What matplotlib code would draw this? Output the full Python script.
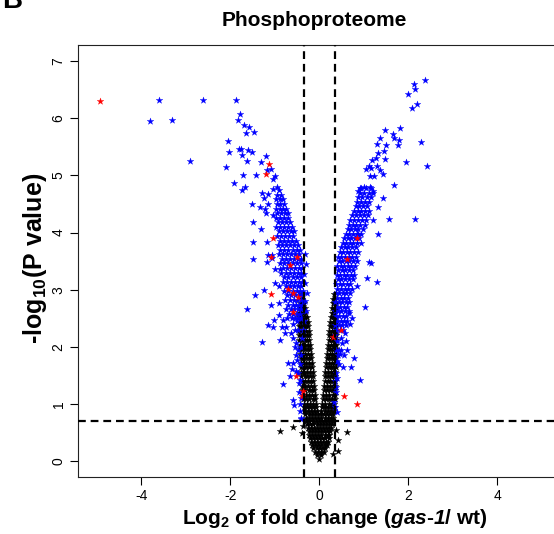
import matplotlib
matplotlib.use("Agg")
import matplotlib.pyplot as plt

plt.rcParams["font.family"] = ["Liberation Sans", "DejaVu Sans"]
plt.rcParams["mathtext.fontset"] = "custom"
plt.rcParams["mathtext.rm"] = "Liberation Sans"
plt.rcParams["mathtext.it"] = "Liberation Sans:italic"
plt.rcParams["mathtext.bf"] = "Liberation Sans:bold"
plt.rcParams["mathtext.bfit"] = "Liberation Sans:bold:italic"
plt.rcParams["mathtext.default"] = "bf"
plt.rcParams["axes.unicode_minus"] = False

# thresholds (dashed lines)
fc_cut = 0.35
p_cut = 0.7

# non-significant sites (black), read off the dense V
black_pts = [
    (0.00, 0.04),
    (-0.04, 0.10), (0.03, 0.10),
    (-0.09, 0.16), (-0.02, 0.16), (0.05, 0.16), (0.10, 0.16),
    (-0.13, 0.22), (-0.06, 0.22), (0.01, 0.22), (0.08, 0.22), (0.14, 0.22),
    (-0.16, 0.28), (-0.09, 0.28), (-0.02, 0.28), (0.05, 0.28), (0.12, 0.28), (0.17, 0.28),
    (-0.19, 0.34), (-0.12, 0.34), (-0.05, 0.34), (0.02, 0.34), (0.09, 0.34), (0.16, 0.34), (0.20, 0.34),
    (-0.21, 0.40), (-0.14, 0.40), (-0.07, 0.40), (0.00, 0.40), (0.07, 0.40), (0.14, 0.40), (0.21, 0.40),
    (-0.23, 0.46), (-0.16, 0.46), (-0.09, 0.46), (-0.02, 0.46), (0.05, 0.46), (0.12, 0.46), (0.19, 0.46), (0.23, 0.46),
    (-0.24, 0.52), (-0.17, 0.52), (-0.10, 0.52), (-0.03, 0.52), (0.04, 0.52), (0.11, 0.52), (0.18, 0.52), (0.25, 0.52),
    (-0.26, 0.58), (-0.19, 0.58), (-0.12, 0.58), (-0.05, 0.58), (0.02, 0.58), (0.09, 0.58), (0.16, 0.58), (0.23, 0.58), (0.27, 0.58),
    (-0.27, 0.64), (-0.20, 0.64), (-0.13, 0.64), (-0.06, 0.64), (0.01, 0.64), (0.08, 0.64), (0.15, 0.64), (0.22, 0.64), (0.28, 0.64),
    (-0.29, 0.70), (-0.22, 0.70), (-0.15, 0.70), (-0.08, 0.70), (-0.01, 0.70), (0.06, 0.70), (0.13, 0.70), (0.20, 0.70), (0.26, 0.70), (0.30, 0.70),
    (-0.30, 0.76), (-0.23, 0.76), (-0.16, 0.76), (-0.09, 0.76), (-0.02, 0.76), (0.05, 0.76), (0.12, 0.76), (0.19, 0.76), (0.26, 0.76), (0.31, 0.76),
    (-0.31, 0.82), (-0.24, 0.82), (-0.17, 0.82), (-0.10, 0.82), (-0.03, 0.82), (0.04, 0.82), (0.11, 0.82), (0.18, 0.82), (0.25, 0.82), (0.31, 0.82),
    (-0.33, 0.88), (-0.26, 0.88), (-0.19, 0.88), (-0.12, 0.88), (-0.06, 0.88), (0.05, 0.88), (0.12, 0.88), (0.19, 0.88), (0.26, 0.88), (0.32, 0.88),
    (-0.34, 0.94), (-0.27, 0.94), (-0.20, 0.94), (-0.13, 0.94), (-0.07, 0.94), (0.06, 0.94), (0.13, 0.94), (0.20, 0.94), (0.27, 0.94), (0.33, 0.94),
    (-0.35, 1.00), (-0.28, 1.00), (-0.21, 1.00), (-0.14, 1.00), (-0.08, 1.00), (0.07, 1.00), (0.14, 1.00), (0.21, 1.00), (0.28, 1.00), (0.34, 1.00),
    (-0.36, 1.08), (-0.29, 1.08), (-0.22, 1.08), (-0.15, 1.08), (-0.09, 1.08), (0.08, 1.08), (0.15, 1.08), (0.22, 1.08), (0.29, 1.08), (0.35, 1.08),
    (-0.37, 1.16), (-0.30, 1.16), (-0.23, 1.16), (-0.16, 1.16), (-0.10, 1.16), (0.09, 1.16), (0.16, 1.16), (0.23, 1.16), (0.30, 1.16), (0.35, 1.16),
    (-0.38, 1.24), (-0.31, 1.24), (-0.24, 1.24), (-0.17, 1.24), (-0.11, 1.24), (0.10, 1.24), (0.17, 1.24), (0.24, 1.24), (0.30, 1.24), (0.36, 1.24),
    (-0.38, 1.32), (-0.31, 1.32), (-0.25, 1.32), (-0.18, 1.32), (-0.12, 1.32), (0.11, 1.32), (0.18, 1.32), (0.25, 1.32), (0.31, 1.32), (0.36, 1.32),
    (-0.39, 1.40), (-0.32, 1.40), (-0.26, 1.40), (-0.19, 1.40), (-0.13, 1.40), (0.12, 1.40), (0.19, 1.40), (0.25, 1.40), (0.31, 1.40), (0.36, 1.40),
    (-0.40, 1.48), (-0.33, 1.48), (-0.27, 1.48), (-0.20, 1.48), (-0.14, 1.48), (0.13, 1.48), (0.19, 1.48), (0.26, 1.48), (0.32, 1.48), (0.36, 1.48),
    (-0.40, 1.56), (-0.34, 1.56), (-0.28, 1.56), (-0.21, 1.56), (-0.15, 1.56), (0.14, 1.56), (0.20, 1.56), (0.26, 1.56), (0.32, 1.56), (0.36, 1.56),
    (-0.41, 1.64), (-0.35, 1.64), (-0.29, 1.64), (-0.22, 1.64), (-0.16, 1.64), (0.15, 1.64), (0.21, 1.64), (0.27, 1.64), (0.32, 1.64), (0.37, 1.64),
    (-0.42, 1.72), (-0.36, 1.72), (-0.30, 1.72), (-0.24, 1.72), (-0.17, 1.72), (0.16, 1.72), (0.22, 1.72), (0.28, 1.72), (0.33, 1.72), (0.37, 1.72),
    (-0.42, 1.80), (-0.36, 1.80), (-0.30, 1.80), (-0.24, 1.80), (-0.18, 1.80), (0.17, 1.80), (0.23, 1.80), (0.28, 1.80), (0.33, 1.80), (0.37, 1.80),
    (-0.43, 1.88), (-0.37, 1.88), (-0.31, 1.88), (-0.25, 1.88), (-0.19, 1.88), (0.18, 1.88), (0.24, 1.88), (0.29, 1.88), (0.34, 1.88), (0.37, 1.88),
    (-0.44, 1.96), (-0.38, 1.96), (-0.32, 1.96), (-0.26, 1.96), (-0.20, 1.96), (0.19, 1.96), (0.25, 1.96), (0.30, 1.96), (0.34, 1.96), (0.37, 1.96),
    (-0.44, 2.04), (-0.38, 2.04), (-0.32, 2.04), (-0.26, 2.04), (-0.21, 2.04), (0.20, 2.04), (0.26, 2.04), (0.31, 2.04), (0.35, 2.04), (0.38, 2.04),
    (-0.45, 2.12), (-0.39, 2.12), (-0.33, 2.12), (-0.27, 2.12), (-0.22, 2.12), (0.21, 2.12), (0.27, 2.12), (0.31, 2.12), (0.35, 2.12), (0.38, 2.12),
    (-0.45, 2.20), (-0.39, 2.20), (-0.34, 2.20), (-0.28, 2.20), (-0.23, 2.20), (0.22, 2.20), (0.27, 2.20), (0.32, 2.20), (0.36, 2.20), (0.38, 2.20),
    (-0.46, 2.28), (-0.40, 2.28), (-0.34, 2.28), (-0.29, 2.28), (-0.24, 2.28), (0.23, 2.28), (0.28, 2.28), (0.33, 2.28), (0.36, 2.28), (0.38, 2.28),
    (-0.46, 2.36), (-0.40, 2.36), (-0.35, 2.36), (-0.30, 2.36), (-0.25, 2.36), (0.24, 2.36), (0.29, 2.36), (0.33, 2.36), (0.37, 2.36),
    (-0.46, 2.44), (-0.41, 2.44), (-0.35, 2.44), (-0.30, 2.44), (-0.26, 2.44), (0.25, 2.44), (0.30, 2.44), (0.34, 2.44), (0.37, 2.44),
    (-0.45, 2.52), (-0.40, 2.52), (-0.35, 2.52), (-0.31, 2.52), (-0.27, 2.52), (0.26, 2.52), (0.31, 2.52), (0.35, 2.52), (0.38, 2.52),
    (-0.45, 2.60), (-0.40, 2.60), (-0.36, 2.60), (-0.31, 2.60), (0.28, 2.60), (0.32, 2.60), (0.36, 2.60),
    (-0.44, 2.68), (-0.40, 2.68), (-0.36, 2.68), (-0.32, 2.68), (0.29, 2.68), (0.33, 2.68), (0.37, 2.68),
    (-0.43, 2.76), (-0.39, 2.76), (-0.35, 2.76), (0.30, 2.76), (0.34, 2.76), (0.37, 2.76),
    (-0.42, 2.84), (-0.38, 2.84), (0.32, 2.84), (0.35, 2.84),
    (-0.40, 2.92), (0.33, 2.92),
    # scattered low points
    (-0.89, 0.53), (-0.58, 0.59), (-0.39, 0.49), (-0.36, 0.62), (0.62, 0.50),
    (0.42, 0.37), (0.43, 0.18), (0.38, 0.55), (0.30, 0.12),
]

# significant sites (blue)
blue_pts = [
    # left, far
    (-3.60, 6.32), (-3.80, 5.95), (-3.31, 5.97), (-2.62, 6.32), (-1.87, 6.33), (-2.90, 5.25),
    (-1.79, 6.07), (-1.83, 5.97), (-1.68, 5.88), (-1.58, 5.85), (-1.64, 5.75), (-1.46, 5.77),
    (-2.04, 5.60), (-2.02, 5.42), (-1.81, 5.46), (-1.76, 5.47), (-1.74, 5.36), (-1.60, 5.45),
    (-1.51, 5.42), (-1.62, 5.26), (-2.09, 5.15), (-1.30, 5.24), (-1.19, 5.34), (-1.18, 5.10),
    (-1.08, 5.11), (-1.71, 5.00), (-1.42, 5.01), (-1.00, 4.99), (-1.04, 4.93), (-1.91, 4.86),
    (-1.66, 4.80), (-1.73, 4.75), (-0.94, 4.80), (-1.04, 4.76), (-1.29, 4.69), (-1.14, 4.68),
    (-1.24, 4.60), (-1.50, 4.50), (-1.33, 4.45), (-1.21, 4.41), (-1.14, 4.50), (-1.19, 4.34),
    (-1.04, 4.31), (-1.48, 4.18), (-1.30, 4.06), (-1.48, 3.83), (-1.17, 3.84), (-1.49, 3.54),
    (-1.14, 3.60), (-1.06, 3.55), (-1.18, 3.49), (-1.07, 3.60), (-0.99, 3.36), (-0.89, 3.37),
    (-0.99, 3.11), (-0.91, 3.06), (-1.24, 2.99), (-1.44, 2.90), (-1.08, 2.73), (-0.91, 2.77),
    (-1.62, 2.66), (-0.91, 2.56), (-1.01, 2.47), (-0.82, 2.47), (-1.16, 2.38), (-1.03, 2.34),
    (-0.84, 2.35), (-0.74, 2.35), (-0.76, 2.25), (-0.63, 2.25), (-1.29, 2.08), (-0.88, 2.12),
    (-0.52, 2.07), (-0.69, 1.71), (-0.59, 1.71), (-0.50, 1.77), (-0.61, 1.61), (-0.52, 1.58),
    (-0.66, 1.49), (-0.46, 1.36), (-0.81, 1.34), (-0.58, 1.06), (-0.56, 0.98), (-0.42, 0.75),
    (-0.43, 1.41), (-0.40, 1.10), (-0.40, 0.73),
    # left, inner strip near the cut
    (-0.33, 3.62), (-0.30, 3.45), (-0.34, 3.28), (-0.31, 3.12), (-0.28, 2.95), (-0.33, 2.80),
    (-0.30, 2.62), (-0.35, 2.45), (-0.36, 2.30), (-0.38, 2.15), (-0.40, 2.00), (-0.42, 1.85),
    (-0.44, 1.70), (-0.47, 1.55), (-0.48, 2.30), (-0.50, 2.45), (-0.47, 1.95), (-0.52, 1.85),
    (-0.55, 2.00), (-0.58, 2.15), (-0.54, 2.30), (-0.60, 2.40), (-0.46, 1.20), (-0.44, 1.00),
    (-0.43, 0.88),
    # left, dense band
    (-0.72, 2.50), (-0.62, 2.50), (-0.55, 2.50), (-0.48, 2.50), (-0.42, 2.50),
    (-0.68, 2.58), (-0.58, 2.58), (-0.50, 2.58), (-0.44, 2.58),
    (-0.74, 2.66), (-0.64, 2.66), (-0.56, 2.66), (-0.47, 2.66), (-0.41, 2.66),
    (-0.70, 2.74), (-0.60, 2.74), (-0.52, 2.74), (-0.45, 2.74), (-0.39, 2.74),
    (-0.77, 2.82), (-0.66, 2.82), (-0.57, 2.82), (-0.49, 2.82), (-0.42, 2.82),
    (-0.72, 2.90), (-0.63, 2.90), (-0.54, 2.90), (-0.46, 2.90), (-0.39, 2.90),
    (-0.79, 2.98), (-0.69, 2.98), (-0.60, 2.98), (-0.51, 2.98), (-0.43, 2.98), (-0.37, 2.98),
    (-0.75, 3.06), (-0.66, 3.06), (-0.57, 3.06), (-0.48, 3.06), (-0.40, 3.06),
    (-0.82, 3.14), (-0.72, 3.14), (-0.63, 3.14), (-0.54, 3.14), (-0.45, 3.14), (-0.38, 3.14),
    (-0.78, 3.22), (-0.69, 3.22), (-0.60, 3.22), (-0.51, 3.22), (-0.42, 3.22),
    (-0.85, 3.30), (-0.75, 3.30), (-0.66, 3.30), (-0.57, 3.30), (-0.48, 3.30), (-0.40, 3.30),
    (-0.81, 3.38), (-0.72, 3.38), (-0.63, 3.38), (-0.54, 3.38), (-0.45, 3.38), (-0.38, 3.38),
    (-0.88, 3.46), (-0.78, 3.46), (-0.69, 3.46), (-0.60, 3.46), (-0.51, 3.46), (-0.42, 3.46),
    (-0.84, 3.54), (-0.75, 3.54), (-0.66, 3.54), (-0.57, 3.54), (-0.48, 3.54), (-0.40, 3.54),
    (-0.90, 3.62), (-0.81, 3.62), (-0.72, 3.62), (-0.63, 3.62), (-0.54, 3.62), (-0.45, 3.62),
    (-0.87, 3.70), (-0.78, 3.70), (-0.69, 3.70), (-0.60, 3.70), (-0.51, 3.70), (-0.44, 3.70),
    (-0.92, 3.78), (-0.83, 3.78), (-0.74, 3.78), (-0.65, 3.78), (-0.56, 3.78), (-0.48, 3.78),
    (-0.89, 3.86), (-0.80, 3.86), (-0.71, 3.86), (-0.62, 3.86), (-0.53, 3.86),
    (-0.94, 3.94), (-0.85, 3.94), (-0.76, 3.94), (-0.67, 3.94), (-0.58, 3.94),
    (-0.91, 4.02), (-0.82, 4.02), (-0.73, 4.02), (-0.64, 4.02), (-0.57, 4.02),
    (-0.96, 4.10), (-0.87, 4.10), (-0.78, 4.10), (-0.69, 4.10), (-0.61, 4.10),
    (-0.93, 4.18), (-0.84, 4.18), (-0.75, 4.18), (-0.66, 4.18),
    (-0.97, 4.26), (-0.88, 4.26), (-0.80, 4.26), (-0.71, 4.26),
    (-0.94, 4.34), (-0.85, 4.34), (-0.77, 4.34), (-0.70, 4.34),
    (-0.98, 4.42), (-0.89, 4.42), (-0.81, 4.42), (-0.74, 4.42),
    (-0.95, 4.50), (-0.87, 4.50), (-0.79, 4.50),
    (-0.97, 4.58), (-0.89, 4.58), (-0.82, 4.58),
    (-0.94, 4.66), (-0.86, 4.66),
    (-0.91, 4.74),
    # right, far
    (2.37, 6.67), (2.12, 6.60), (2.16, 6.51), (1.99, 6.42), (2.19, 6.25), (2.08, 6.18),
    (1.47, 5.80), (1.82, 5.83), (1.37, 5.66), (1.66, 5.73), (1.69, 5.66), (1.80, 5.63),
    (1.30, 5.55), (1.50, 5.53), (1.77, 5.53), (2.29, 5.58), (1.45, 5.43), (1.33, 5.39),
    (1.27, 5.31), (1.18, 5.27), (1.47, 5.29), (1.96, 5.24), (2.42, 5.17), (1.11, 5.17),
    (1.06, 5.11), (1.16, 5.14), (1.37, 5.10), (1.30, 5.17), (1.15, 4.99), (1.24, 4.99),
    (1.43, 5.03), (1.69, 4.83), (0.91, 4.78), (1.00, 4.79), (1.15, 4.80), (1.22, 4.73),
    (0.88, 4.72), (1.43, 4.61), (1.32, 4.45), (1.22, 4.22), (1.57, 4.23), (2.16, 4.23),
    (1.33, 3.97), (0.88, 3.97), (1.11, 3.48), (1.17, 3.46), (1.07, 3.21), (1.30, 3.13),
    (0.85, 3.06), (1.04, 2.69), (0.68, 2.60), (0.73, 2.50), (0.70, 2.40), (0.58, 2.24),
    (0.51, 2.06), (0.79, 1.80), (0.53, 1.64), (0.71, 1.64), (0.91, 1.42), (0.37, 1.30),
    (0.34, 1.04), (0.41, 0.86), (0.38, 1.20), (0.36, 0.95),
    # right, inner strip
    (0.36, 2.20), (0.40, 2.10), (0.37, 1.95), (0.42, 1.85), (0.39, 1.75), (0.45, 1.70),
    (0.38, 1.55), (0.41, 1.45), (0.36, 1.40), (0.44, 1.95), (0.48, 2.15), (0.46, 1.88),
    (0.50, 1.95), (0.55, 1.85), (0.62, 1.95), (0.60, 2.10),
    # right, dense band
    (0.38, 2.30), (0.46, 2.30), (0.54, 2.30),
    (0.36, 2.38), (0.44, 2.38), (0.52, 2.38), (0.60, 2.38),
    (0.40, 2.46), (0.48, 2.46), (0.56, 2.46), (0.63, 2.46),
    (0.37, 2.54), (0.45, 2.54), (0.53, 2.54), (0.61, 2.54),
    (0.35, 2.62), (0.42, 2.62), (0.50, 2.62), (0.58, 2.62), (0.66, 2.62),
    (0.39, 2.70), (0.47, 2.70), (0.55, 2.70), (0.62, 2.70),
    (0.36, 2.78), (0.44, 2.78), (0.52, 2.78), (0.60, 2.78), (0.68, 2.78),
    (0.40, 2.86), (0.48, 2.86), (0.56, 2.86), (0.64, 2.86),
    (0.37, 2.94), (0.45, 2.94), (0.53, 2.94), (0.61, 2.94), (0.69, 2.94),
    (0.41, 3.02), (0.49, 3.02), (0.57, 3.02), (0.65, 3.02), (0.73, 3.02),
    (0.38, 3.10), (0.46, 3.10), (0.54, 3.10), (0.62, 3.10), (0.70, 3.10),
    (0.42, 3.18), (0.50, 3.18), (0.58, 3.18), (0.66, 3.18), (0.75, 3.18),
    (0.39, 3.26), (0.47, 3.26), (0.55, 3.26), (0.63, 3.26), (0.71, 3.26), (0.79, 3.26),
    (0.43, 3.34), (0.51, 3.34), (0.59, 3.34), (0.67, 3.34), (0.76, 3.34),
    (0.40, 3.42), (0.48, 3.42), (0.56, 3.42), (0.64, 3.42), (0.72, 3.42), (0.81, 3.42),
    (0.44, 3.50), (0.52, 3.50), (0.60, 3.50), (0.68, 3.50), (0.77, 3.50), (0.85, 3.50),
    (0.42, 3.58), (0.50, 3.58), (0.58, 3.58), (0.66, 3.58), (0.74, 3.58), (0.83, 3.58),
    (0.46, 3.66), (0.54, 3.66), (0.62, 3.66), (0.70, 3.66), (0.79, 3.66), (0.88, 3.66),
    (0.49, 3.74), (0.57, 3.74), (0.65, 3.74), (0.73, 3.74), (0.82, 3.74),
    (0.53, 3.82), (0.61, 3.82), (0.69, 3.82), (0.77, 3.82), (0.86, 3.82), (0.93, 3.82),
    (0.56, 3.90), (0.64, 3.90), (0.72, 3.90), (0.80, 3.90), (0.89, 3.90),
    (0.60, 3.98), (0.68, 3.98), (0.76, 3.98), (0.84, 3.98), (0.95, 3.98),
    (0.64, 4.06), (0.72, 4.06), (0.80, 4.06), (0.88, 4.06), (0.98, 4.06),
    (0.67, 4.14), (0.75, 4.14), (0.83, 4.14), (0.92, 4.14), (1.02, 4.14),
    (0.70, 4.22), (0.79, 4.22), (0.87, 4.22), (0.96, 4.22), (1.06, 4.22),
    (0.74, 4.30), (0.83, 4.30), (0.91, 4.30), (1.00, 4.30), (1.09, 4.30),
    (0.78, 4.38), (0.87, 4.38), (0.95, 4.38), (1.04, 4.38), (1.12, 4.38),
    (0.82, 4.46), (0.90, 4.46), (0.99, 4.46), (1.08, 4.46),
    (0.86, 4.54), (0.94, 4.54), (1.03, 4.54), (1.13, 4.54),
    (0.88, 4.62), (0.97, 4.62), (1.07, 4.62), (1.17, 4.62),
    (0.91, 4.70), (1.01, 4.70), (1.11, 4.70), (1.20, 4.70),
    (0.95, 4.78), (1.06, 4.78), (1.16, 4.78),
]

# regulated sites of interest (red)
red_pts = [
    (-4.92, 6.30), (-1.12, 5.20), (-1.20, 5.03), (-1.03, 3.90), (-1.08, 3.58), (-1.08, 2.92),
    (-0.71, 3.01), (-0.60, 2.61), (-0.48, 2.87), (-0.59, 2.94), (-0.49, 3.58), (-0.65, 3.43),
    (-0.52, 1.48), (-0.37, 1.23), (-0.38, 1.13), (0.49, 2.29), (0.32, 2.17), (0.56, 1.13),
    (0.85, 1.00), (0.85, 3.90), (0.62, 3.53),
]

fig = plt.figure(figsize=(5.54, 5.34), dpi=100)
ax = fig.add_axes([78 / 554, 1 - 477 / 534, (592 - 78) / 554, (477 - 45.3) / 534])

for pts, col in [(black_pts, "black"), (blue_pts, "#0000ff"), (red_pts, "#ff0000")]:
    xs = [p[0] for p in pts]
    ys = [p[1] for p in pts]
    ax.scatter(xs, ys, marker="*", s=26, color=col, linewidths=0.2, edgecolors=col, zorder=3)

dash = (0, (3.5, 2.2))
ax.axvline(-fc_cut, color="black", lw=1.6, linestyle=dash, zorder=4)
ax.axvline(fc_cut, color="black", lw=1.6, linestyle=dash, zorder=4)
ax.axhline(p_cut, color="black", lw=1.6, linestyle=dash, zorder=4)

ax.set_xlim(-5.42, 6.13)
ax.set_ylim(-0.28, 7.28)
ax.set_xticks([-4, -2, 0, 2, 4])
ax.set_yticks(range(0, 8))
ax.tick_params(axis="both", length=6, width=0.8, labelsize=10, pad=3)
ax.tick_params(axis="y", labelrotation=90)
for lab in ax.get_yticklabels():
    lab.set_va("center")
for sp in ax.spines.values():
    sp.set_linewidth(0.8)
    sp.set_color("#222222")

fig.text(314 / 554, 1 - 21 / 534, "Phosphoproteome", fontsize=15, fontweight="bold",
         ha="center", va="center")
fig.text(335 / 554, 1 - 519 / 534,
         r"Log$_2$ of fold change ($\mathbfit{gas}$-$\mathbfit{1}$/ wt)",
         fontsize=15, fontweight="bold", ha="center", va="center")
fig.text(35 / 554, 1 - 258 / 534, r"-log$_{10}$(P value)", fontsize=18, fontweight="bold",
         rotation=90, ha="center", va="center")
fig.text(0.004, 1 - 8 / 534, "B", fontsize=20, fontweight="bold", ha="left", va="baseline")

fig.savefig("out.png", dpi=100)
